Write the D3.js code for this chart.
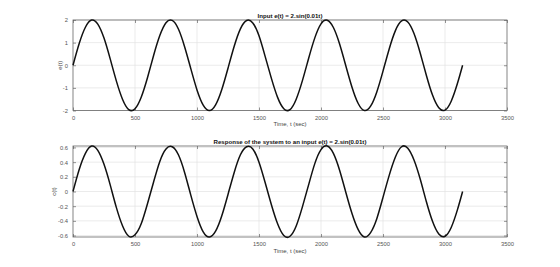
<!DOCTYPE html>
<html>
<head>
<meta charset="utf-8">
<script src="https://cdn.jsdelivr.net/npm/d3@7"></script>
<style>
  body { margin: 0; background: #fff; }
  svg { display: block; font-family: "Liberation Sans", Arial, sans-serif; }
  .tick text { fill: #555; font-size: 5.8px; }
  .grid line { stroke: #e3e3e3; stroke-width: 0.7; }
  .frame { fill: none; stroke: #666; stroke-width: 0.8; }
</style>
</head>
<body>
<svg id="chart" width="560" height="267"></svg>
<script>
// sampled time (sec)
const timeValues = [0, 50, 100, 150, 200, 250, 300, 350, 400, 450, 500, 550, 600, 650, 700, 750,
  800, 850, 900, 950, 1000, 1050, 1100, 1150, 1200, 1250, 1300, 1350, 1400, 1450, 1500, 1550,
  1600, 1650, 1700, 1750, 1800, 1850, 1900, 1950, 2000, 2050, 2100, 2150, 2200, 2250, 2300, 2350,
  2400, 2450, 2500, 2550, 2600, 2650, 2700, 2750, 2800, 2850, 2900, 2950, 3000, 3050, 3100, 3142];

// input e(t)
const inputValues = [0, 0.96, 1.68, 2.00, 1.82, 1.20, 0.28, -0.70, -1.51, -1.96, -1.92, -1.41, -0.56, 0.43, 1.31, 1.88,
  1.98, 1.60, 0.82, -0.15, -1.09, -1.76, -2.00, -1.75, -1.07, -0.13, 0.84, 1.61, 1.98, 1.87, 1.30, 0.38,
  -0.58, -1.42, -1.92, -1.96, -1.50, -0.68, 0.30, 1.21, 1.83, 1.99, 1.67, 0.94, -0.02, -0.97, -1.69, -2.00,
  -1.81, -1.18, -0.26, 0.72, 1.53, 1.96, 1.91, 1.40, 0.54, -0.45, -1.33, -1.88, -1.98, -1.59, -0.81, 0.00];

// response c(t)
const responseValues = [0, 0.30, 0.52, 0.62, 0.56, 0.37, 0.09, -0.22, -0.47, -0.61, -0.59, -0.44, -0.17, 0.13, 0.41, 0.58,
  0.61, 0.50, 0.26, -0.05, -0.34, -0.55, -0.62, -0.54, -0.33, -0.04, 0.26, 0.50, 0.61, 0.58, 0.40, 0.12,
  -0.18, -0.44, -0.60, -0.61, -0.47, -0.21, 0.09, 0.38, 0.57, 0.62, 0.52, 0.29, -0.01, -0.30, -0.52, -0.62,
  -0.56, -0.37, -0.08, 0.22, 0.47, 0.61, 0.59, 0.43, 0.17, -0.14, -0.41, -0.58, -0.61, -0.49, -0.25, 0.00];

const xTicks = [0, 500, 1000, 1500, 2000, 2500, 3000, 3500];
const inputTicks = [-2, -1, 0, 1, 2];
const responseTicks = [-0.6, -0.4, -0.2, 0, 0.2, 0.4, 0.6];

// plain hyphen for negatives, like the original
const hyph = f => d => f(d).replace("\u2212", "-");

const panels = [
  { top: 20, bottom: 110.5, title: "Input e(t) = 2.sin(0.01t)", ylabel: "e(t)", ylabelX: 62,
    values: inputValues, domain: [-2, 2], ticks: inputTicks, fmt: hyph(d3.format("d")) },
  { top: 146, bottom: 237, title: "Response of the system to an input e(t) = 2.sin(0.01t)", ylabel: "c(t)", ylabelX: 56,
    values: responseValues, domain: [-0.62, 0.62], ticks: responseTicks,
    fmt: hyph(d => d === 0 ? "0" : d3.format(".1f")(d)) }
];

const left = 73, right = 507;
const svg = d3.select("#chart");
const x = d3.scaleLinear().domain([0, 3500]).range([left, right]);

panels.forEach(p => {
  const y = d3.scaleLinear().domain(p.domain).range([p.bottom, p.top]);
  const h = p.bottom - p.top;
  const g = svg.append("g");

  // grid
  g.append("g").attr("class", "grid")
    .selectAll("line.vx").data(xTicks.slice(1, -1)).join("line")
    .attr("x1", d => x(d)).attr("x2", d => x(d)).attr("y1", p.top).attr("y2", p.bottom);
  g.append("g").attr("class", "grid")
    .selectAll("line.hy").data(p.ticks).join("line")
    .attr("x1", left).attr("x2", right).attr("y1", d => y(d)).attr("y2", d => y(d));

  // axes (ticks inside, box style)
  const ax = g.append("g").attr("transform", `translate(0,${p.bottom})`)
    .call(d3.axisBottom(x).tickValues(xTicks).tickSize(-3).tickPadding(5).tickFormat(d3.format("d")));
  const axTop = g.append("g").attr("transform", `translate(0,${p.top})`)
    .call(d3.axisTop(x).tickValues(xTicks).tickSize(-3).tickFormat(""));
  const ay = g.append("g").attr("transform", `translate(${left},0)`)
    .call(d3.axisLeft(y).tickValues(p.ticks).tickSize(-3).tickPadding(5).tickFormat(p.fmt));
  const ayR = g.append("g").attr("transform", `translate(${right},0)`)
    .call(d3.axisRight(y).tickValues(p.ticks).tickSize(-3).tickFormat(""));
  [ax, axTop, ay, ayR].forEach(a => {
    a.select(".domain").remove();
    a.selectAll(".tick line").attr("stroke", "#666").attr("stroke-width", 0.7);
  });

  g.append("rect").attr("class", "frame")
    .attr("x", left).attr("y", p.top).attr("width", right - left).attr("height", h);

  // curve
  const line = d3.line().x((d, i) => x(timeValues[i])).y(d => y(d)).curve(d3.curveNatural);
  g.append("path").datum(p.values)
    .attr("d", line).attr("fill", "none").attr("stroke", "#111").attr("stroke-width", 1.5);

  // title
  g.append("text").attr("x", (left + right) / 2).attr("y", p.top - 2.5)
    .attr("text-anchor", "middle").attr("font-size", 6.1).attr("font-weight", "bold").attr("fill", "#111")
    .text(p.title);

  // x label
  g.append("text").attr("x", (left + right) / 2).attr("y", p.bottom + 15.5)
    .attr("text-anchor", "middle").attr("font-size", 6).attr("fill", "#444")
    .text("Time, t (sec)");

  // y label
  g.append("text").attr("transform", `translate(${p.ylabelX},${(p.top + p.bottom) / 2}) rotate(-90)`)
    .attr("text-anchor", "middle").attr("font-size", 6).attr("fill", "#444")
    .text(p.ylabel);
});
</script>
</body>
</html>
